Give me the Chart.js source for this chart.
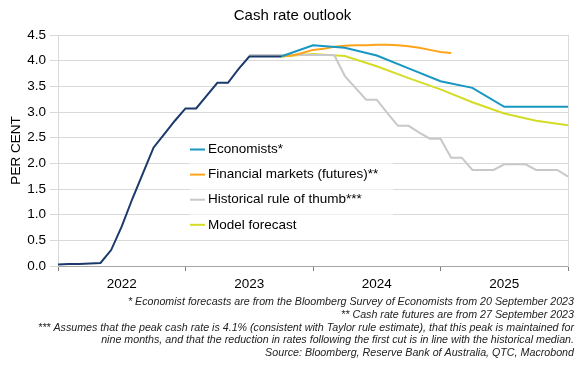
<!DOCTYPE html>
<html>
<head>
<meta charset="utf-8">
<script src="https://cdn.jsdelivr.net/npm/chart.js@4/dist/chart.umd.min.js"></script>
<style>
  html, body { margin: 0; padding: 0; background: #fff; }
  #wrap { width: 585px; height: 371px; position: relative; }
</style>
</head>
<body>
<div id="wrap"><canvas id="chart"></canvas></div>
<script>
// month-end categories, Dec-21 .. Dec-25
var months = ['Dec-21',
  'Jan-22','Feb-22','Mar-22','Apr-22','May-22','Jun-22','Jul-22','Aug-22','Sep-22','Oct-22','Nov-22','Dec-22',
  'Jan-23','Feb-23','Mar-23','Apr-23','May-23','Jun-23','Jul-23','Aug-23','Sep-23','Oct-23','Nov-23','Dec-23',
  'Jan-24','Feb-24','Mar-24','Apr-24','May-24','Jun-24','Jul-24','Aug-24','Sep-24','Oct-24','Nov-24','Dec-24',
  'Jan-25','Feb-25','Mar-25','Apr-25','May-25','Jun-25','Jul-25','Aug-25','Sep-25','Oct-25','Nov-25','Dec-25'];

// actual cash rate, monthly from Dec-21
var cashRate = [0.03, 0.04, 0.04, 0.05, 0.06, 0.31, 0.77, 1.31, 1.81, 2.31, 2.57, 2.83, 3.07,
  3.07, 3.32, 3.57, 3.57, 3.84, 4.08, 4.08, 4.08, 4.08];

// quarterly forecasts
var quarters = ['Sep-23','Dec-23','Mar-24','Jun-24','Sep-24','Dec-24','Mar-25','Jun-25','Sep-25','Dec-25'];
var economists = [4.08, 4.30, 4.25, 4.10, 3.85, 3.60, 3.47, 3.10, 3.10, 3.10];
var model = [4.08, 4.13, 4.09, 3.89, 3.66, 3.44, 3.19, 2.97, 2.83, 2.74];

// futures, monthly from Sep-23
var futuresStart = 'Sep-23';
var futures = [4.08, 4.10, 4.15, 4.21, 4.23, 4.27, 4.29, 4.30, 4.30, 4.31, 4.31, 4.30, 4.28, 4.25, 4.21, 4.17, 4.15];

// historical rule of thumb, monthly from Jun-23
var ruleStart = 'Jun-23';
var ruleOfThumb = [4.11, 4.11, 4.11, 4.11, 4.11, 4.11, 4.11, 4.11, 4.11,
  3.70, 3.47, 3.24, 3.24, 2.98, 2.73, 2.73, 2.60, 2.48, 2.48, 2.11, 2.11,
  1.87, 1.87, 1.87, 1.98, 1.98, 1.98, 1.87, 1.87, 1.87, 1.74];

var footnotes = [
  '* Economist forecasts are from the Bloomberg Survey of Economists from 20 September 2023',
  '** Cash rate futures are from 27 September 2023',
  '*** Assumes that the peak cash rate is 4.1% (consistent with Taylor rule estimate), that this peak is maintained for',
  'nine months, and that the reduction in rates following the first cut is in line with the historical median.',
  'Source: Bloomberg, Reserve Bank of Australia, QTC, Macrobond'
];

function monthly(start, values) {
  var i0 = months.indexOf(start);
  return values.map(function (v, i) { return { x: months[i0 + i], y: v }; });
}
function pairs(labels, values) {
  return values.map(function (v, i) { return { x: labels[i], y: v }; });
}

Chart.defaults.font.family = '"Liberation Sans", Arial, sans-serif';
Chart.defaults.color = '#000';

function line(label, data, color, inLegend) {
  return {
    label: label, data: data, borderColor: color, backgroundColor: color,
    borderWidth: 2, pointRadius: 0, tension: 0, fill: false, spanGaps: true,
    inLegend: inLegend
  };
}

// legend drawn inside the plot
var innerLegend = {
  id: 'innerLegend',
  afterDatasetsDraw: function (chart) {
    var c = chart.ctx;
    c.save();
    c.fillStyle = 'rgba(255,255,255,0.6)';
    c.fillRect(190, 139, 203, 97);
    var y = 149.5;
    c.font = '13.5px "Liberation Sans", Arial, sans-serif';
    c.textBaseline = 'middle';
    chart.data.datasets.forEach(function (ds) {
      if (!ds.inLegend) return;
      c.strokeStyle = ds.borderColor;
      c.lineWidth = 2;
      c.beginPath();
      c.moveTo(190, y);
      c.lineTo(205, y);
      c.stroke();
      c.fillStyle = '#000';
      c.fillText(ds.label, 208, y);
      y += 25.1;
    });
    c.restore();
  }
};

// footnotes under the chart
var notes = {
  id: 'notes',
  afterDraw: function (chart) {
    var c = chart.ctx;
    c.save();
    c.font = 'italic 10.7px "Liberation Sans", Arial, sans-serif';
    c.fillStyle = '#222';
    c.textAlign = 'right';
    c.textBaseline = 'middle';
    footnotes.forEach(function (t, i) { c.fillText(t, 574, 302 + i * 12.8); });
    c.restore();
  }
};

var ctx = document.getElementById('chart').getContext('2d');
var myChart = new Chart(ctx, {
  type: 'line',
  data: {
    labels: months,
    datasets: [
      line('Cash rate', monthly('Dec-21', cashRate), '#1b3a6b', false),
      line('Economists*', pairs(quarters, economists), '#1797c2', true),
      line('Financial markets (futures)**', monthly(futuresStart, futures), '#ffa31a', true),
      line('Historical rule of thumb***', monthly(ruleStart, ruleOfThumb), '#c8c8c8', true),
      line('Model forecast', pairs(quarters, model), '#d5dc26', true)
    ]
  },
  options: {
    responsive: true,
    maintainAspectRatio: false,
    animation: false,
    layout: { padding: 0 },
    plugins: {
      legend: { display: false },
      tooltip: { enabled: false },
      title: {
        display: true,
        text: 'Cash rate outlook',
        font: { size: 15, weight: 'normal' },
        color: '#000',
        padding: { top: 7, bottom: 10 }
      }
    },
    scales: {
      x: {
        type: 'category',
        offset: false,
        grid: {
          drawOnChartArea: false,
          drawTicks: true,
          tickLength: 5,
          tickColor: function (c) { return c.index % 12 === 0 ? '#7f7f7f' : 'transparent'; }
        },
        border: { color: '#a6a6a6' },
        ticks: {
          autoSkip: false,
          maxRotation: 0,
          minRotation: 0,
          padding: 5,
          font: { size: 13.5 },
          color: '#000',
          callback: function (val, index) {
            return index % 12 === 6 ? '20' + this.getLabelForValue(val).slice(-2) : '';
          }
        },
        afterFit: function (scale) { scale.height = 105; }
      },
      y: {
        min: 0,
        max: 4.5,
        grid: { color: '#d9d9d9', tickLength: 8, tickColor: '#d9d9d9' },
        border: { color: '#d9d9d9' },
        ticks: {
          stepSize: 0.5,
          padding: 4,
          font: { size: 13.5 },
          color: '#000',
          callback: function (v) { return v.toFixed(1); }
        },
        title: {
          display: true,
          text: 'PER CENT',
          font: { size: 13.5 },
          color: '#000',
          padding: { top: 8, bottom: 0 }
        },
        afterFit: function (scale) { scale.width = 58; }
      },
      // right-hand frame of the plot
      yRight: {
        position: 'right',
        min: 0,
        max: 4.5,
        grid: { drawOnChartArea: false, drawTicks: false },
        ticks: { display: false },
        border: { color: '#d9d9d9' },
        afterFit: function (scale) { scale.width = 17; }
      }
    }
  },
  plugins: [innerLegend, notes]
});
</script>
</body>
</html>
